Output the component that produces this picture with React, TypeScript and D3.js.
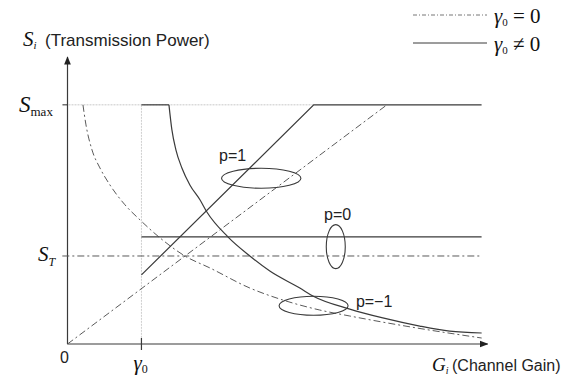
import React from "react";
import * as d3 from "d3";

// ---- data (abstract units: gamma0 = 1, S_max = 1) ----
const gamma0 = 1;
const Smax = 1;
const ST = 0.368;
const SfixedP0 = 0.448;
const Gend = 5.6;
const Gaxis = 5.68;
const Saxis = 1.2;

// p = 1 (truncated) lines
const p1Solid: [number, number][] = [[1, 0.289], [3.33, 1], [Gend, 1]];
const p1Dashed: [number, number][] = [[0, 0], [4.32, 1]];

// p = 0 lines
const p0Solid: [number, number][] = [[1, SfixedP0], [Gend, SfixedP0]];
const p0Dashed: [number, number][] = [[-0.07, ST], [Gend, ST]];

// p = -1 curves (channel inversion)
const pm1SolidTop: [number, number][] = [[1, 1], [1.372, 1]];
const pm1Solid: [number, number][] = [
  [1.372, 1.0], [1.412, 0.895], [1.466, 0.812], [1.547, 0.736], [1.655, 0.665],
  [1.791, 0.603], [1.885, 0.552], [2.169, 0.448], [2.466, 0.368], [2.736, 0.305],
  [3.142, 0.234], [3.318, 0.201], [3.818, 0.146], [4.264, 0.109], [4.764, 0.075],
  [5.169, 0.054], [5.601, 0.046],
];
const pm1Dashed: [number, number][] = [
  [0.209, 1.0], [0.25, 0.916], [0.331, 0.812], [0.439, 0.736], [0.574, 0.665],
  [0.777, 0.582], [0.98, 0.519], [1.25, 0.444], [1.588, 0.368], [1.926, 0.318],
  [2.466, 0.234], [2.912, 0.184], [3.412, 0.142], [3.818, 0.117], [4.723, 0.067],
  [5.601, 0.025],
];

// annotations: label + ellipse centre (G, S)
const ellipses = [
  { label: "p=1", g: 2.62, s: 0.693, rx: 39.7, ry: 10, tg: 2.05, ts: 0.765 },
  { label: "p=0", g: 3.628, s: 0.407, rx: 9.5, ry: 22, tg: 3.47, ts: 0.52 },
  { label: "p=\u22121", g: 3.328, s: 0.16, rx: 34.5, ry: 9.5, tg: 3.9, ts: 0.155 },
];

const W = 565;
const H = 379;

export default function App() {
  const x = d3.scaleLinear().domain([0, Gaxis]).range([67.5, 487.5]);
  const y = d3.scaleLinear().domain([0, Saxis]).range([344, 57]);
  const lin = d3.line<[number, number]>().x((d) => x(d[0])).y((d) => y(d[1]));
  const crv = d3
    .line<[number, number]>()
    .x((d) => x(d[0]))
    .y((d) => y(d[1]))
    .curve(d3.curveMonotoneX);

  const dark = "#3a3a3a";
  const dashCol = "#5a5a5a";
  const dash = "7,3,2,3";
  const serif = "'Liberation Serif', 'DejaVu Serif', serif";
  const sans = "'Liberation Sans', Arial, sans-serif";

  return (
    <svg width={W} height={H} style={{ position: "absolute", left: 0, top: 0, background: "#fff" }}>
      <defs>
        <marker id="arr" viewBox="0 0 10 10" refX="9" refY="5" markerWidth="7" markerHeight="7" orient="auto">
          <path d="M0,1 L10,5 L0,9 z" fill="#222" />
        </marker>
      </defs>
      <rect width={W} height={H} fill="#fff" />

      {/* light guides */}
      <line x1={x(0) - 5} x2={x(3.33)} y1={y(Smax)} y2={y(Smax)} stroke="#c8c8c8" strokeWidth={1} strokeDasharray="2,1" />
      <line x1={x(0) - 5} x2={x(0)} y1={y(Smax)} y2={y(Smax)} stroke={dark} strokeWidth={1} />
      <line x1={x(gamma0)} x2={x(gamma0)} y1={y(Smax)} y2={y(0)} stroke="#cfcfcf" strokeWidth={1} strokeDasharray="2,1" />

      {/* axes */}
      <line x1={x(0)} x2={x(0)} y1={y(0)} y2={y(Saxis)} stroke={dark} strokeWidth={1.2} markerEnd="url(#arr)" />
      <line x1={x(0)} x2={x(Gaxis)} y1={y(0)} y2={y(0)} stroke={dark} strokeWidth={1.2} markerEnd="url(#arr)" />
      <line x1={x(gamma0)} x2={x(gamma0)} y1={y(0) - 6} y2={y(0) + 6} stroke={dark} strokeWidth={1.2} />

      {/* dashed (gamma0 = 0) */}
      <path d={lin(p1Dashed) || ""} fill="none" stroke={dashCol} strokeWidth={1} strokeDasharray={dash} />
      <path d={lin(p0Dashed) || ""} fill="none" stroke={dashCol} strokeWidth={1} strokeDasharray={dash} />
      <path d={crv(pm1Dashed) || ""} fill="none" stroke={dashCol} strokeWidth={1} strokeDasharray={dash} />

      {/* solid (gamma0 != 0) */}
      <path d={lin(p1Solid) || ""} fill="none" stroke={dark} strokeWidth={1.2} />
      <path d={lin(p0Solid) || ""} fill="none" stroke={dark} strokeWidth={1.2} />
      <path d={lin(pm1SolidTop) || ""} fill="none" stroke={dark} strokeWidth={1.2} />
      <path d={crv(pm1Solid) || ""} fill="none" stroke={dark} strokeWidth={1.2} />

      {/* ellipses + labels */}
      {ellipses.map((e) => (
        <g key={e.label}>
          <ellipse cx={x(e.g)} cy={y(e.s)} rx={e.rx} ry={e.ry} fill="none" stroke={dark} strokeWidth={1.1} />
          <text x={x(e.tg)} y={y(e.ts)} fontFamily={sans} fontSize={16} fill="#222">
            {e.label}
          </text>
        </g>
      ))}

      {/* axis labels */}
      <text x={23} y={46} fontFamily={serif} fontSize={21} fill="#111">
        <tspan fontStyle="italic">S</tspan>
        <tspan fontStyle="italic" fontSize={11} dy={3}>i</tspan>
      </text>
      <text x={45} y={46} fontFamily={sans} fontSize={17} fill="#222">(Transmission Power)</text>

      <text x={432} y={371} fontFamily={serif} fontSize={19} fill="#111">
        <tspan fontStyle="italic">G</tspan>
        <tspan fontStyle="italic" fontSize={10} dy={3}>i</tspan>
      </text>
      <text x={452} y={371} fontFamily={sans} fontSize={16} fill="#222">(Channel Gain)</text>

      <text x={19} y={112} fontFamily={serif} fontSize={23} fill="#111">
        <tspan fontStyle="italic">S</tspan>
        <tspan fontSize={13} dy={4}>max</tspan>
      </text>
      <text x={38} y={261} fontFamily={serif} fontSize={21} fill="#111">
        <tspan fontStyle="italic">S</tspan>
        <tspan fontStyle="italic" fontSize={12} dy={5}>T</tspan>
      </text>
      <text x={x(0) - 3} y={363} fontFamily={sans} fontSize={16} textAnchor="middle" fill="#222">0</text>
      <text x={x(gamma0) - 8} y={370} fontFamily={serif} fontSize={21} fill="#111">
        <tspan fontStyle="italic">γ</tspan>
        <tspan fontSize={12} dy={3}>0</tspan>
      </text>

      {/* legend */}
      <line x1={413} x2={487} y1={15} y2={15} stroke="#777" strokeWidth={1} strokeDasharray="4,2,1,2" />
      <text x={494} y={23} fontFamily={serif} fontSize={21} fill="#111">
        <tspan fontStyle="italic">γ</tspan>
        <tspan fontSize={11} dy={3}>0</tspan>
        <tspan dy={-3}> = 0</tspan>
      </text>
      <line x1={413} x2={487} y1={43} y2={43} stroke={dark} strokeWidth={1} />
      <text x={494} y={51} fontFamily={serif} fontSize={21} fill="#111">
        <tspan fontStyle="italic">γ</tspan>
        <tspan fontSize={11} dy={3}>0</tspan>
        <tspan dy={-3}> ≠ 0</tspan>
      </text>
    </svg>
  );
}
